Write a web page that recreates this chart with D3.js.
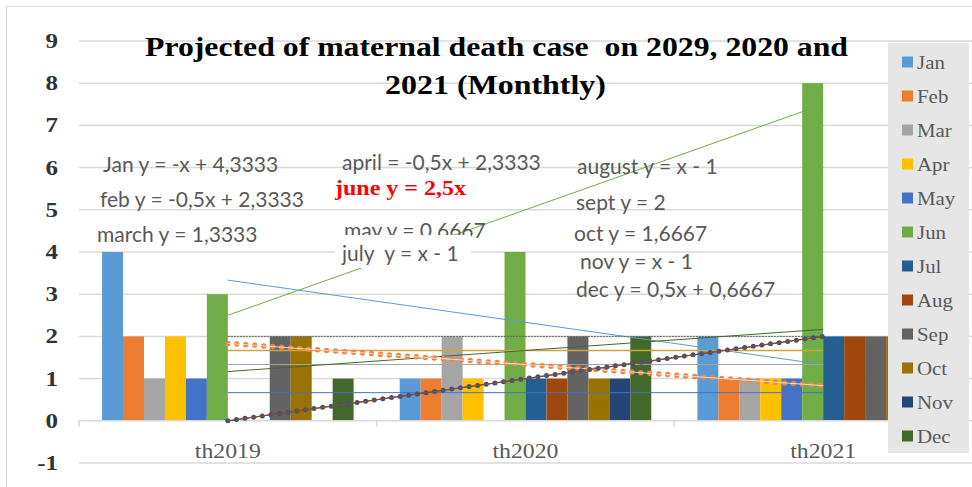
<!DOCTYPE html>
<html>
<head>
<meta charset="utf-8">
<script src="https://cdn.jsdelivr.net/npm/d3@7"></script>
<style>
    body { margin: 0; background: #fff; }
    svg { display: block; }
    text { white-space: pre; }
</style>
</head>
<body>
<svg id="chart"></svg>
<script>
const years = ["th2019", "th2020", "th2021"];
const months = ["Jan", "Feb", "Mar", "Apr", "May", "Jun", "Jul", "Aug", "Sep", "Oct", "Nov", "Dec"];
const th2019 = [4, 2, 1, 2, 1, 3, 0, 0, 2, 2, 0, 1];
const th2020 = [1, 1, 2, 1, 0, 4, 1, 1, 2, 1, 1, 2];
const th2021 = [2, 1, 1, 1, 1, 8, 2, 2, 2, 2, 2, 2];
const yTicks = [-1, 0, 1, 2, 3, 4, 5, 6, 7, 8, 9];
const titleLines = ["Projected of maternal death case  on 2029, 2020 and", "2021 (Monthtly)"];
const trendLabels = [
    "Jan y = -x + 4,3333", "feb y = -0,5x + 2,3333", "march y = 1,3333",
    "april = -0,5x + 2,3333", "june y = 2,5x", "may y = 0.6667", "july  y = x - 1",
    "august y = x - 1", "sept y = 2", "oct y = 1,6667", "nov y = x - 1", "dec y = 0,5x + 0,6667"
];

const width = 972, height = 487;
const colors = ["#5B9BD5", "#ED7D31", "#A5A5A5", "#FFC000", "#4472C4", "#70AD47",
                "#255E91", "#9E480E", "#636363", "#997300", "#264478", "#43682B"];
const serif = "'Liberation Serif', 'Times New Roman', serif";
const sans = "Lato, 'Open Sans', sans-serif";

const svg = d3.select("#chart").attr("width", width).attr("height", height);

// outer chart border
svg.append("rect").attr("x", 6.5).attr("y", 6.5).attr("width", 980).attr("height", 500)
    .attr("fill", "#fff").attr("stroke", "#d9d9d9");

const x0 = d3.scaleBand().domain(years).range([79, 972]).paddingInner(0).paddingOuter(0);
const x1 = d3.scaleBand().domain(months).range([0, x0.bandwidth()]).paddingInner(0).paddingOuter(1.1);
const y = d3.scaleLinear().domain([-1, 9]).range([463, 41]);
const xt = d3.scaleLinear().domain([1, 3])
    .range([x0(years[0]) + x0.bandwidth() / 2, x0(years[2]) + x0.bandwidth() / 2]);

// gridlines
svg.append("g").selectAll("line").data(yTicks.filter(d => d !== 0)).join("line")
    .attr("x1", 79).attr("x2", 972)
    .attr("y1", d => y(d)).attr("y2", d => y(d))
    .attr("stroke", "#d9d9d9").attr("stroke-width", 1.5);

// y tick labels (the picture is a bit stretched sideways)
svg.append("g").selectAll("text").data(yTicks).join("text")
    .attr("transform", d => `translate(58,${y(d)}) scale(1.25,1)`)
    .attr("dy", "0.35em")
    .attr("text-anchor", "end")
    .style("font", `bold 20px ${serif}`).attr("fill", "#333")
    .text(d => d);

// bars
const table = years.map((yr, i) => ({year: yr, values: [th2019, th2020, th2021][i]}));
svg.append("g").selectAll("g").data(table).join("g")
    .attr("transform", d => `translate(${x0(d.year)},0)`)
    .selectAll("rect").data(d => d.values.map((v, i) => ({month: months[i], value: v, i})))
    .join("rect")
    .attr("x", d => x1(d.month)).attr("width", x1.bandwidth())
    .attr("y", d => y(Math.max(0, d.value)))
    .attr("height", d => Math.abs(y(d.value) - y(0)))
    .attr("fill", d => colors[d.i]);

// category axis
const axisG = svg.append("g");
axisG.append("line").attr("x1", 79).attr("x2", 972).attr("y1", y(0)).attr("y2", y(0))
    .attr("stroke", "#d9d9d9").attr("stroke-width", 1.5);
axisG.selectAll("line.tick").data([79, ...years.slice(1).map(d => x0(d))]).join("line")
    .attr("class", "tick")
    .attr("x1", d => d).attr("x2", d => d).attr("y1", y(0)).attr("y2", y(0) + 6)
    .attr("stroke", "#d9d9d9").attr("stroke-width", 1.5);
axisG.selectAll("text").data(years).join("text")
    .attr("x", d => x0(d) + x0.bandwidth() / 2 - 33).attr("y", 458)
    .attr("textLength", 66).attr("lengthAdjust", "spacingAndGlyphs")
    .style("font", `22px ${serif}`).attr("fill", "#595959")
    .text(d => d);

// linear trendlines, fitted on x = 1..3
const fits = months.map((m, i) => {
    const ys = [th2019[i], th2020[i], th2021[i]];
    const mean = d3.mean(ys);
    const slope = (ys[2] - ys[0]) / 2;
    return {i, slope, intercept: mean - 2 * slope};
});
const trendStyle = {
    0: {w: 1}, 1: {w: 5.5, dash: "0 9", cap: "round", color: "#EF8440"}, 2: {w: 1},
    3: {w: 0.8, color: "#fdf1e8"}, 4: {w: 1}, 5: {w: 1}, 6: {w: 1},
    10: {w: 5, dash: "0 8.7", cap: "round", color: "#2F5597"}, 7: {w: 1.2},
    8: {w: 1, dash: "2 1"}, 9: {w: 1.5, color: "#C9A640"}, 11: {w: 1}
};
const order = [0, 2, 4, 5, 6, 8, 9, 11, 1, 3, 10, 7];
svg.append("g").selectAll("line").data(order.map(i => fits[i])).join("line")
    .attr("x1", xt(1)).attr("x2", xt(3))
    .attr("y1", d => y(d.intercept + d.slope)).attr("y2", d => y(d.intercept + 3 * d.slope))
    .attr("stroke", d => trendStyle[d.i].color || colors[d.i])
    .attr("stroke-width", d => trendStyle[d.i].w)
    .attr("stroke-dasharray", d => trendStyle[d.i].dash || null)
    .attr("stroke-linecap", d => trendStyle[d.i].cap || "butt");

// trendline equation labels
const labelPos = [
    [103, 172], [100, 207], [97, 242], [342, 170], [335, 195], [344, 238], [342, 261],
    [577, 174], [576, 210], [574, 241], [580, 269], [576, 297]
];
const labels = svg.append("g");
labelPos.forEach((p, i) => {
    if (i === 6) {
        // july label box hides the bottom of the may label
        labels.append("rect").attr("x", 335).attr("y", 235).attr("width", 136).attr("height", 33)
            .attr("fill", "#fff");
    }
    const t = labels.append("text").attr("x", p[0]).attr("y", p[1]).text(trendLabels[i]);
    if (i === 4) {
        t.style("font", `bold 21px ${serif}`).attr("fill", "#FF0000")
            .attr("textLength", 131).attr("lengthAdjust", "spacingAndGlyphs");
    } else {
        t.style("font", `21px ${sans}`).attr("fill", "#595959");
    }
});

// title
svg.append("g").selectAll("text").data(titleLines).join("text")
    .attr("x", (d, i) => i ? 385 : 145).attr("y", (d, i) => 56 + i * 38)
    .attr("textLength", (d, i) => i ? 221 : 703).attr("lengthAdjust", "spacingAndGlyphs")
    .style("font", `bold 28px ${serif}`).attr("fill", "#000")
    .text(d => d);

// legend
const legend = svg.append("g");
legend.append("rect").attr("x", 888).attr("y", 43).attr("width", 81).attr("height", 410)
    .attr("fill", "#e7e6e6");
const item = legend.selectAll("g").data(months).join("g")
    .attr("transform", (d, i) => `translate(902,${62 + i * 34})`);
item.append("rect").attr("x", 0).attr("y", -5.5).attr("width", 11).attr("height", 11)
    .attr("fill", (d, i) => colors[i]);
item.append("text").attr("transform", "translate(15,0) scale(1.1,1)").attr("dy", "0.35em")
    .style("font", `19px ${serif}`).attr("fill", "#595959")
    .text(d => d);
</script>
</body>
</html>
